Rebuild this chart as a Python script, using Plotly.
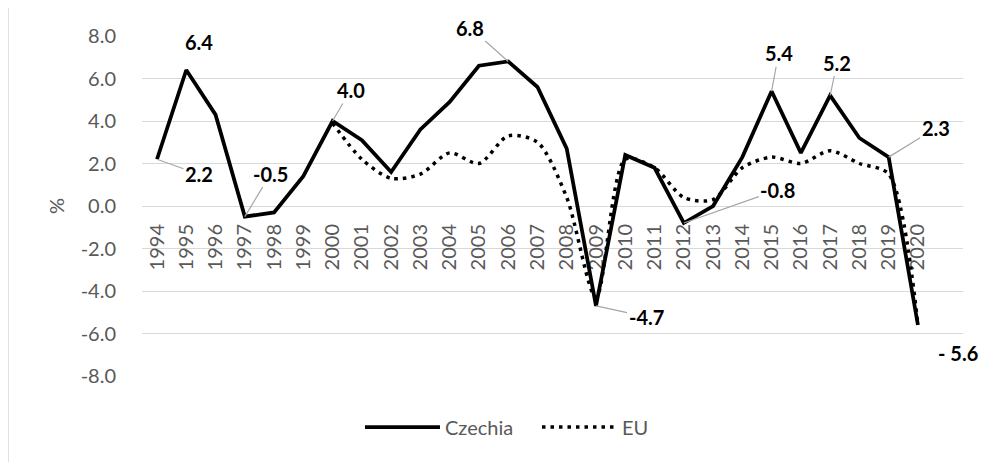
import plotly.graph_objects as go

years = list(range(1994, 2021))
czechia = [2.2, 6.4, 4.3, -0.5, -0.3, 1.4, 4.0, 3.1, 1.6, 3.6, 4.9, 6.6, 6.8, 5.6,
           2.7, -4.7, 2.4, 1.8, -0.8, 0.0, 2.3, 5.4, 2.5, 5.2, 3.2, 2.3, -5.6]
eu_years = list(range(2000, 2021))
eu = [3.9, 2.2, 1.3, 1.5, 2.5, 2.0, 3.3, 3.0, 0.4, -4.3, 2.2, 1.8, 0.4, 0.3,
      1.8, 2.3, 2.0, 2.6, 2.0, 1.5, -5.6]
year_labels = [str(y) for y in years]
y_ticks = [-8, -6, -4, -2, 0, 2, 4, 6, 8]
y_tick_labels = ["-8.0", "-6.0", "-4.0", "-2.0", "0.0", "2.0", "4.0", "6.0", "8.0"]

# labelled points: (year, text, ax, ay, leader)
labels = [
    (1994, "2.2", 42, 15, True),
    (1995, "6.4", 13, -28, False),
    (1997, "-0.5", 26, -43, True),
    (2000, "4.0", 18, -31, True),
    (2006, "6.8", -38, -34, True),
    (2009, "-4.7", 50, 11, True),
    (2012, "-0.8", 94, -33, True),
    (2015, "5.4", 7, -38, True),
    (2017, "5.2", 7, -33, True),
    (2019, "2.3", 47, -29, True),
    (2020, "- 5.6", 40, 28, False),
]

FONT = "Lato"
GREY = "#595959"

fig = go.Figure()
fig.add_trace(go.Scatter(x=years, y=czechia, name="Czechia", mode="lines",
                         line=dict(color="black", width=3.75)))
fig.add_trace(go.Scatter(x=eu_years, y=eu, name="EU", mode="lines",
                         line=dict(color="black", width=3.5, dash="3.5px,5px",
                                   shape="spline", smoothing=0.8)))

annotations = []
for yr, txt, ax, ay, leader in labels:
    val = czechia[years.index(yr)]
    base = dict(x=yr, y=val, xref="x", yref="y", text="<b>" + txt + "</b>",
                font=dict(family=FONT, size=20, color="black"))
    if leader:
        base.update(showarrow=True, arrowhead=0, arrowwidth=1.2,
                    arrowcolor="#A6A6A6", ax=ax, ay=ay)
    else:
        base.update(showarrow=False, xshift=ax, yshift=-ay)
    annotations.append(base)

fig.update_layout(
    width=980, height=454,
    margin=dict(l=134, r=25, t=28, b=86, autoexpand=False),
    paper_bgcolor="white", plot_bgcolor="white",
    font=dict(family=FONT, size=20, color=GREY),
    showlegend=True,
    legend=dict(orientation="h", x=0.2655, xanchor="left", y=-0.15, yanchor="middle",
                font=dict(family=FONT, size=20, color=GREY), itemwidth=75,
                entrywidth=87, entrywidthmode="pixels",
                traceorder="normal", bgcolor="rgba(0,0,0,0)"),
    annotations=annotations,
    shapes=[dict(type="rect", xref="paper", yref="paper",
                 x0=-0.1632, x1=1.2, y0=-0.5, y1=1.0882,
                 line=dict(color="#D9D9D9", width=1.5), layer="below")],
)
fig.update_xaxes(range=[1993.4875, 2021.54], tickmode="array", tickvals=years,
                 ticktext=year_labels, tickangle=-90, anchor="free", position=0.5,
                 showgrid=False, zeroline=False, showline=False, ticks="",
                 ticklabelstandoff=13, layer="below traces", automargin=False,
                 tickfont=dict(family=FONT, size=20, color=GREY))
fig.update_yaxes(range=[-8, 8], tickmode="array", tickvals=y_ticks,
                 ticktext=y_tick_labels, showgrid=True, gridcolor="#D9D9D9",
                 gridwidth=1.3, zeroline=False, showline=False, ticks="",
                 ticklabelstandoff=25, automargin=False,
                 title=dict(text="%", standoff=10,
                            font=dict(family=FONT, size=20, color=GREY)),
                 tickfont=dict(family=FONT, size=20, color=GREY), layer="below traces")

fig.write_html("out.html")
